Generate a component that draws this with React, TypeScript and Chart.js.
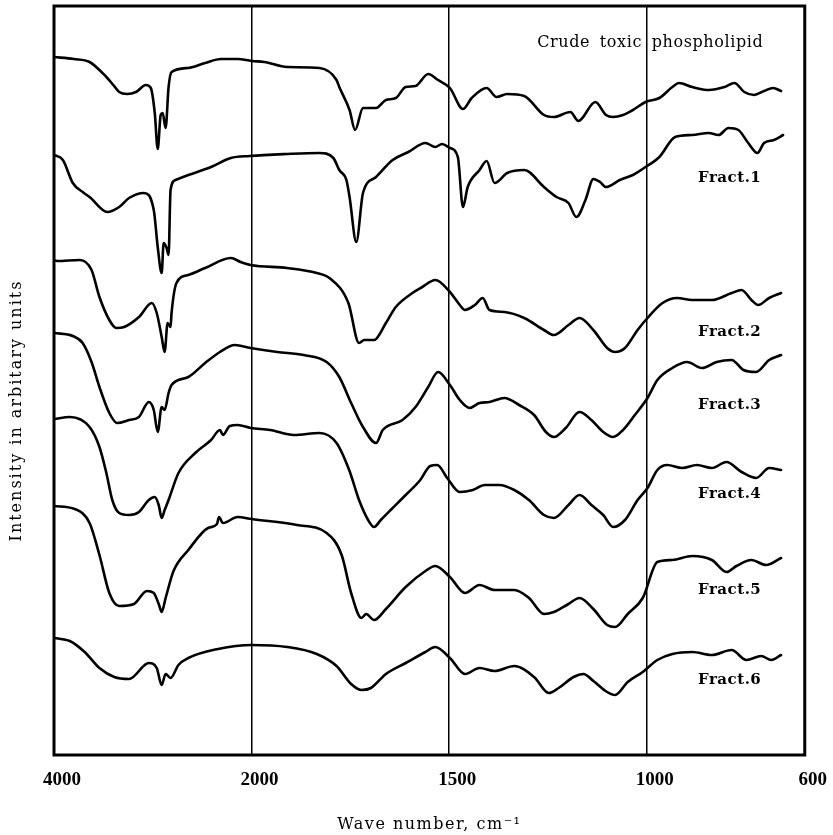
import React, { useEffect, useRef } from "react";
import { Chart, registerables } from "chart.js";

Chart.register(...registerables);

// ---- axis ticks (wavenumber, cm^-1) ----
const tickWavenumbers = [4000, 2000, 1500, 1000, 600];
const tickLabels = ["4000", "2000", "1500", "1000", "600"];
const gridWavenumbers = [2000, 1500, 1000];

const seriesNames = [
  "Crude toxic phospholipid",
  "Fract.1",
  "Fract.2",
  "Fract.3",
  "Fract.4",
  "Fract.5",
  "Fract.6",
];

// ---- spectra: wavenumber (cm^-1) and intensity (arbitrary units) ----
const crudeWn = [4000,3800,3640,3470,3400,3340,3260,3170,3070,3020,2980,2950,2920,2900,2870,2840,2810,2640,2470,2310,2140,2000,1968,1910,1828,1785,1778,1752,1738,1718,1685,1660,1635,1610,1585,1553,1528,1498,1465,1443,1405,1380,1353,1310,1260,1235,1193,1173,1130,1103,1085,1060,1035,1003,968,935,918,885,843,803,778,753,728,703,680,660];
const crudeI = [698,696,693,678,670,663,661,663,670,667,642,606,640,642,627,668,683,687,692,696,696,694,693,688,687,675,668,645,625,647,647,655,657,668,669,681,675,667,646,657,667,658,661,659,640,638,643,634,653,640,638,640,645,653,657,668,672,668,665,668,672,663,660,664,667,664];

const fract1Wn = [4000,3910,3810,3710,3640,3460,3340,3240,3090,2990,2950,2910,2890,2860,2840,2820,2770,2640,2410,2210,2020,1910,1828,1793,1778,1760,1752,1735,1718,1685,1643,1603,1560,1535,1518,1498,1478,1465,1453,1423,1405,1385,1353,1310,1260,1228,1198,1178,1155,1135,1118,1103,1068,1035,1003,968,928,885,843,818,793,768,743,720,703,678,655];
const fract1I = [600,595,572,563,558,543,548,557,562,545,508,482,512,507,500,565,575,580,588,597,599,601,602,597,585,575,558,513,562,578,595,603,612,608,611,607,598,548,568,585,594,572,582,585,568,558,552,538,555,576,573,568,575,580,588,598,618,620,622,620,627,625,612,602,612,615,620];

const fract2Wn = [4000,3970,3740,3620,3540,3440,3370,3290,3140,3010,2960,2910,2880,2850,2820,2810,2760,2640,2470,2210,2110,2010,1910,1835,1803,1755,1728,1715,1690,1660,1635,1593,1568,1535,1498,1473,1460,1435,1415,1398,1360,1310,1260,1235,1198,1170,1135,1100,1080,1055,1023,998,960,923,885,835,785,760,735,718,690,660];
const fract2I = [495,494,495,485,458,435,427,428,438,452,442,418,403,432,428,442,472,480,487,497,493,490,487,482,477,452,412,415,415,432,448,462,468,475,463,450,445,450,457,445,443,437,425,420,430,437,425,407,403,407,425,437,452,457,455,455,462,465,455,450,457,462];

const fract3Wn = [4000,3810,3710,3620,3540,3440,3360,3240,3140,3040,2990,2950,2910,2880,2840,2810,2640,2470,2320,2170,2010,1935,1868,1810,1778,1748,1718,1685,1668,1618,1585,1553,1528,1498,1473,1448,1423,1398,1360,1323,1285,1255,1235,1205,1170,1140,1110,1085,1060,1030,998,973,935,898,860,823,785,755,723,690,660];
const fract3I = [422,419,412,393,368,342,332,335,338,353,345,323,348,345,362,370,378,392,403,410,407,403,400,393,378,352,328,312,325,335,348,368,383,370,355,347,352,353,357,350,340,323,318,327,343,335,323,318,325,340,357,375,387,393,387,393,395,385,383,395,400];

const fract4Wn = [4000,3840,3640,3540,3470,3410,3340,3240,3140,3040,2980,2940,2910,2880,2840,2740,2570,2410,2320,2290,2220,2140,2010,1953,1893,1828,1785,1753,1728,1705,1690,1673,1648,1610,1573,1548,1530,1505,1473,1440,1410,1373,1335,1298,1260,1235,1198,1170,1140,1110,1085,1055,1023,998,973,948,910,873,835,798,760,723,690,660];
const fract4I = [336,338,328,308,282,255,242,240,243,255,258,250,237,245,255,282,302,315,325,320,329,330,327,325,320,322,312,285,255,235,228,235,245,260,275,289,290,277,263,265,270,270,265,255,240,237,250,260,250,240,228,235,255,267,285,290,287,290,287,293,283,277,287,285];

const fract5Wn = [4000,3790,3640,3540,3440,3340,3190,3060,2990,2940,2910,2870,2790,2640,2440,2350,2330,2290,2140,2000,1885,1810,1772,1748,1722,1710,1690,1660,1610,1560,1535,1498,1460,1423,1385,1335,1298,1260,1235,1198,1170,1135,1100,1080,1048,1010,973,935,885,835,798,773,735,698,660];
const fract5I = [249,246,232,200,162,149,151,164,162,151,143,157,184,205,227,231,238,232,238,236,230,222,200,162,137,141,135,146,168,184,189,178,162,170,165,165,157,141,143,151,157,146,130,128,141,157,193,195,199,195,183,189,195,190,197];

const fract6Wn = [4000,3840,3690,3540,3390,3240,3040,2960,2910,2870,2820,2740,2640,2340,2000,1910,1835,1785,1748,1722,1698,1660,1610,1560,1535,1498,1460,1423,1385,1335,1285,1248,1223,1185,1160,1135,1100,1080,1048,1010,973,935,885,835,785,748,710,685,660];
const fract6I = [117,114,103,87,78,76,92,87,70,81,77,90,97,106,110,108,101,89,71,65,67,81,92,103,108,97,81,87,84,89,78,62,67,78,81,74,63,60,73,83,95,101,103,100,105,95,99,95,100];

// where each curve's name is written (wavenumber of its left edge, intensity)
const labelWn = [1277, 870, 870, 870, 870, 870, 870];
const labelI = [712, 577, 423, 350, 261, 165, 75];

const seriesWn = [crudeWn, fract1Wn, fract2Wn, fract3Wn, fract4Wn, fract5Wn, fract6Wn];
const seriesI = [crudeI, fract1I, fract2I, fract3I, fract4I, fract5I, fract6I];

// The spectrometer chart changes scale at 2000 cm^-1: 4000-2000 is compressed 4x.
function toAxis(wn: number): number {
  return wn >= 2000 ? (4000 - wn) / 4 : 500 + (2000 - wn);
}

const SERIF = "'DejaVu Serif', 'Liberation Serif', serif";

const decorPlugin = {
  id: "decor",
  afterDraw(chart: any) {
    const { ctx, chartArea, scales } = chart;
    const { left, top, right, bottom } = chartArea;
    ctx.save();
    // frame
    ctx.strokeStyle = "#000";
    ctx.lineWidth = 3;
    ctx.strokeRect(left, top, right - left, bottom - top);

    ctx.fillStyle = "#000";
    // curve names
    ctx.textAlign = "left";
    ctx.textBaseline = "middle";
    seriesNames.forEach((name, i) => {
      const x = scales.x.getPixelForValue(toAxis(labelWn[i]));
      const y = scales.y.getPixelForValue(labelI[i]);
      if (i === 0) {
        ctx.font = `16px ${SERIF}`;
        (ctx as any).letterSpacing = "0.6px";
        (ctx as any).wordSpacing = "4px";
      } else {
        ctx.font = `bold 15px ${SERIF}`;
        (ctx as any).letterSpacing = "0.5px";
        (ctx as any).wordSpacing = "0px";
      }
      ctx.fillText(name, x, y);
    });
    (ctx as any).wordSpacing = "0px";

    // x axis title
    ctx.font = `16px ${SERIF}`;
    (ctx as any).letterSpacing = "1.5px";
    ctx.textAlign = "center";
    ctx.textBaseline = "middle";
    ctx.fillText("Wave number, cm\u207B\u00B9", (left + right) / 2, 825);

    // y axis title
    ctx.translate(17, (top + bottom) / 2 + 30);
    ctx.rotate(-Math.PI / 2);
    (ctx as any).letterSpacing = "2px";
    ctx.fillText("Intensity in arbitary units", 0, 0);
    ctx.restore();
  },
};

export default function App() {
  const canvasRef = useRef<HTMLCanvasElement | null>(null);

  useEffect(() => {
    document.body.style.margin = "0";
    const canvas = canvasRef.current;
    if (!canvas) return;

    const datasets = seriesNames.map((name, i) => ({
      label: name,
      data: seriesWn[i].map((w, k) => ({ x: toAxis(w), y: seriesI[i][k] })),
      borderColor: "#000",
      backgroundColor: "#000",
      borderWidth: 2.6,
      pointRadius: 0,
      fill: false,
      cubicInterpolationMode: "monotone" as const,
      borderJoinStyle: "round" as const,
      borderCapStyle: "round" as const,
    }));

    const chart = new Chart(canvas, {
      type: "line",
      data: { datasets },
      options: {
        responsive: false,
        animation: false,
        parsing: false as any,
        layout: { padding: { left: 54, right: 19, top: 6, bottom: 0 } },
        plugins: {
          legend: { display: false },
          tooltip: { enabled: false },
          title: { display: false },
        },
        scales: {
          x: {
            type: "linear",
            min: 0,
            max: 1900,
            afterBuildTicks: (scale: any) => {
              scale.ticks = tickWavenumbers.map((w) => ({ value: toAxis(w) }));
            },
            afterFit: (scale: any) => {
              scale.height = 80;
            },
            ticks: {
              autoSkip: false,
              maxRotation: 0,
              labelOffset: 8,
              padding: 14,
              color: "#000",
              font: { family: "'Liberation Serif', serif", size: 19, weight: "bold" },
              callback: (v: any) => {
                const i = tickWavenumbers.findIndex((w) => Math.abs(toAxis(w) - v) < 1e-6);
                return i >= 0 ? tickLabels[i] : "";
              },
            },
            grid: {
              drawTicks: false,
              lineWidth: 1.5,
              color: (c: any) =>
                c.tick && gridWavenumbers.some((w) => Math.abs(toAxis(w) - c.tick.value) < 1e-6)
                  ? "#000"
                  : "rgba(0,0,0,0)",
            },
            border: { display: false },
          },
          y: {
            display: false,
            min: 0,
            max: 749,
          },
        },
      },
      plugins: [decorPlugin],
    });

    return () => chart.destroy();
  }, []);

  return (
    <div style={{ width: 833, height: 835, background: "#fff" }}>
      <canvas ref={canvasRef} width={833} height={835} style={{ display: "block" }} />
    </div>
  );
}
